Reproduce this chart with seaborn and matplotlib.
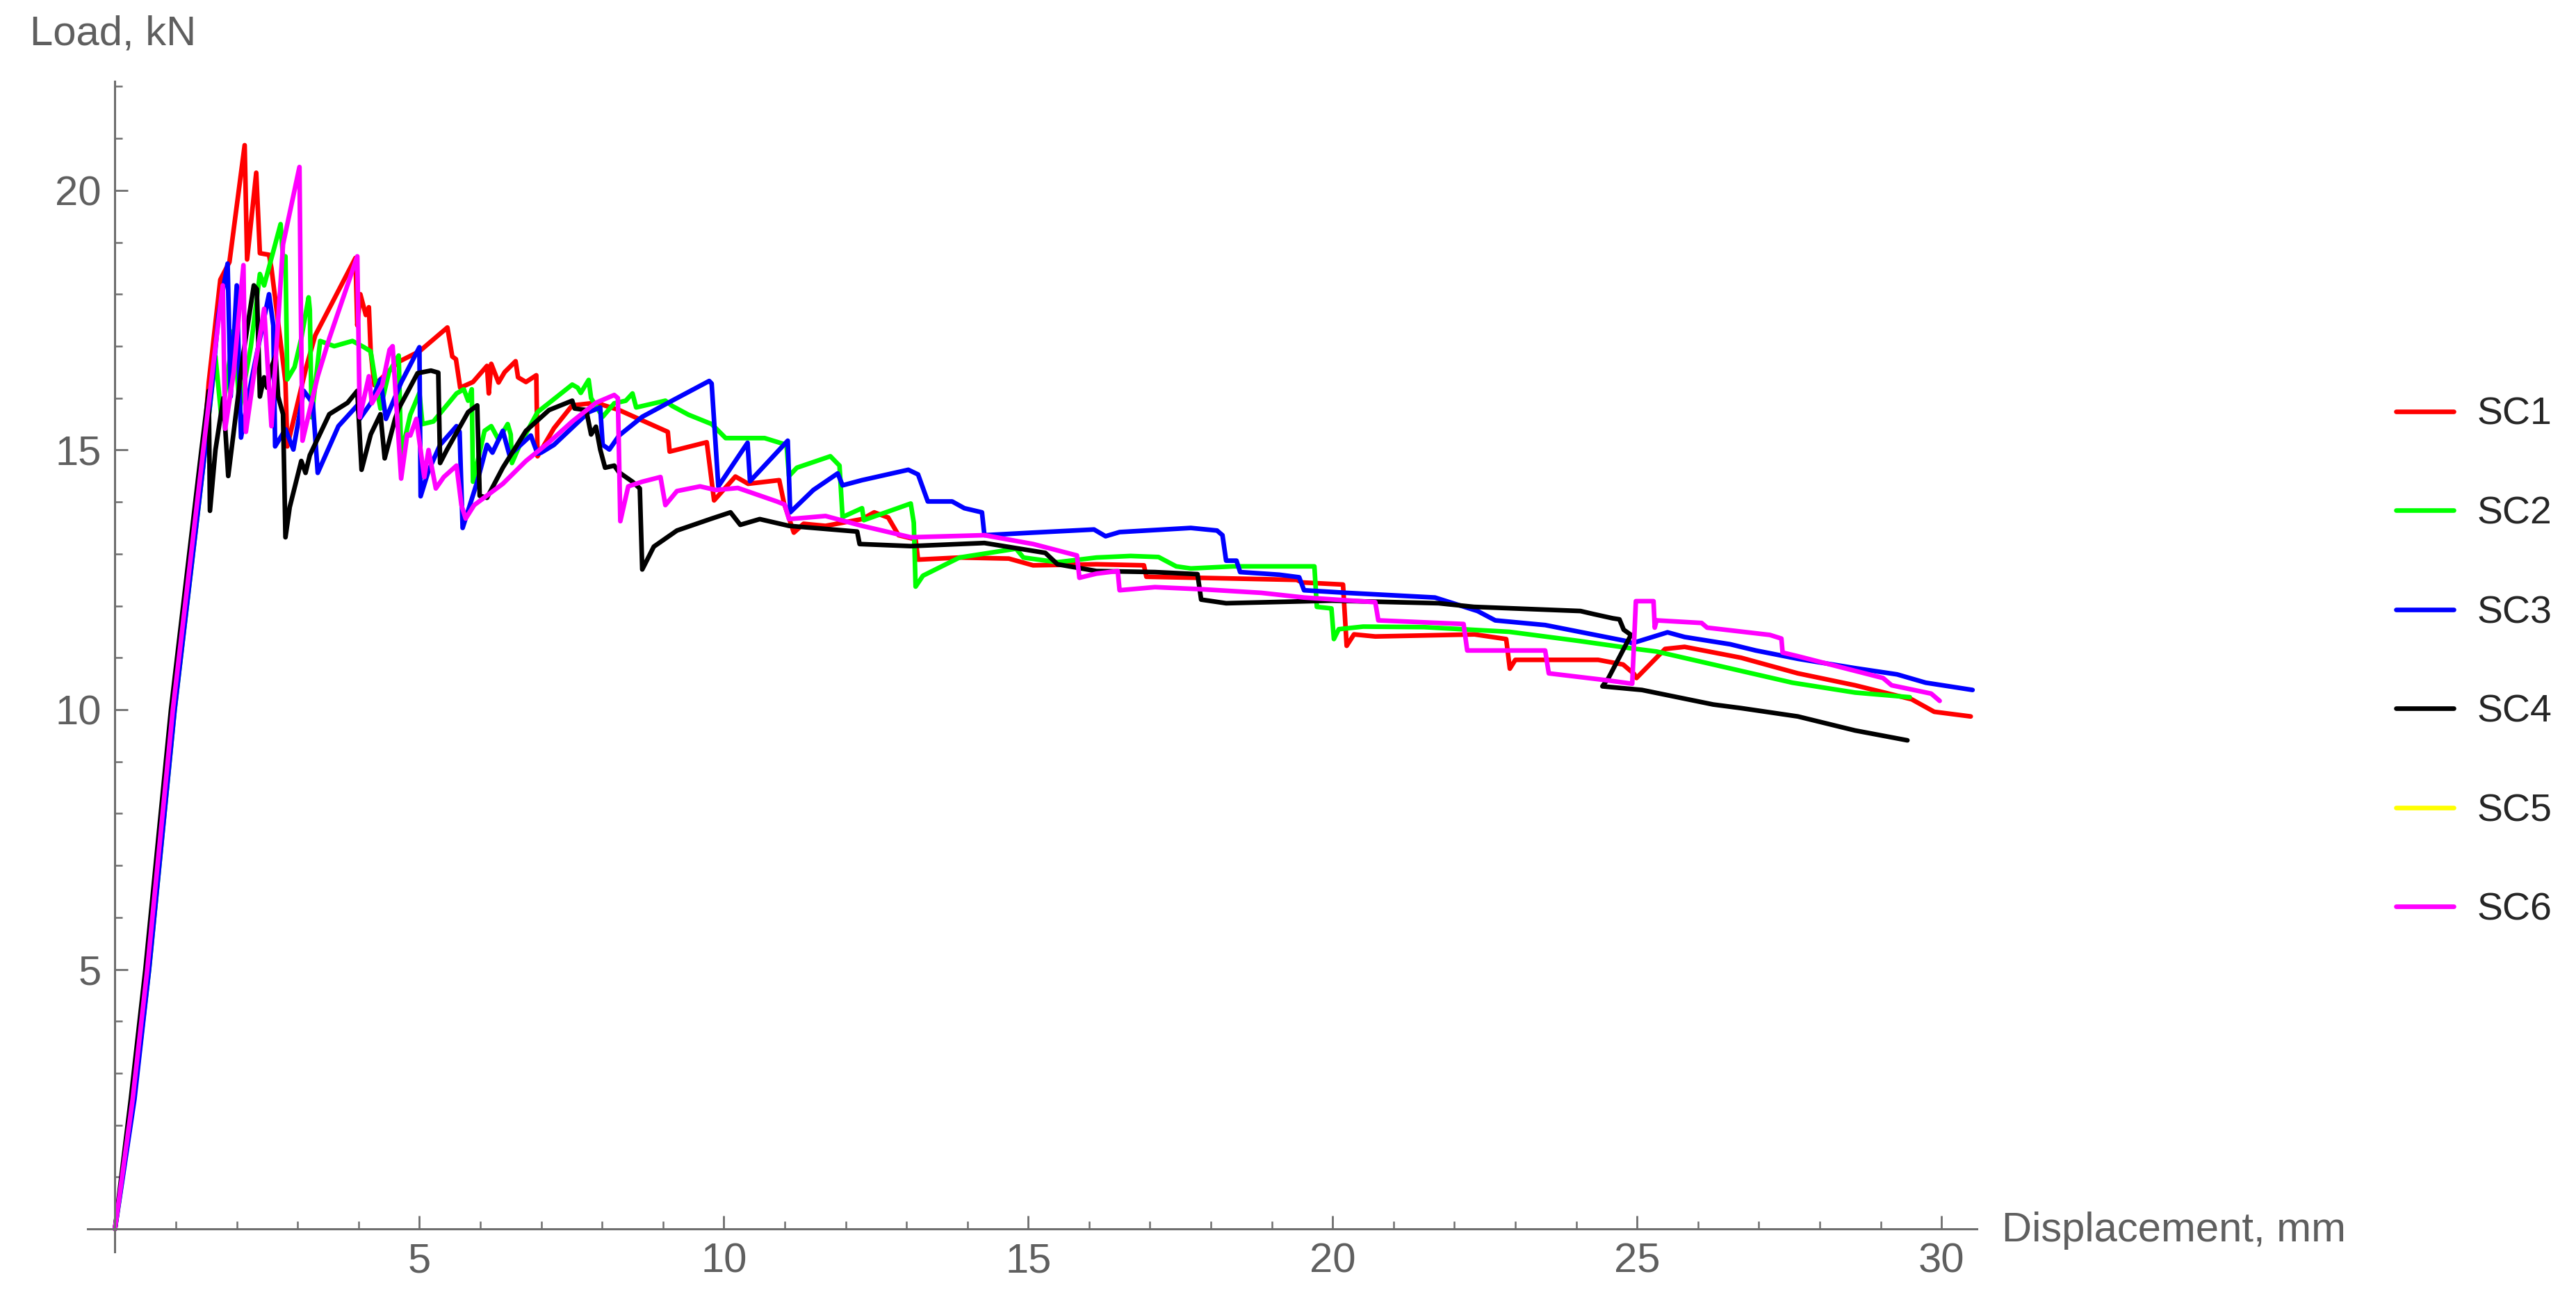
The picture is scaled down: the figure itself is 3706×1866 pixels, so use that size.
import matplotlib
matplotlib.use("Agg")
import matplotlib.pyplot as plt
from matplotlib.ticker import MultipleLocator, FixedLocator
from matplotlib.lines import Line2D
import seaborn as sns
import pandas as pd

# (displacement mm, load kN)
sc1 = [(0, 0), (0.29, 2.5), (0.53, 5.0), (0.74, 7.5), (0.95, 10.0), (1.2, 12.5), (1.45, 15.0),
       (1.54, 16.3), (1.73, 18.28), (1.88, 18.62), (2.13, 20.87), (2.17, 18.67), (2.32, 20.34),
       (2.38, 18.79), (2.53, 18.76), (2.57, 18.5), (2.80, 16.31), (2.83, 15.07), (3.14, 16.59),
       (3.29, 17.21), (3.95, 18.7), (3.98, 17.4), (4.03, 18.0), (4.12, 17.6), (4.17, 17.75),
       (4.2, 16.9), (4.26, 16.25), (4.66, 16.7), (5.0, 16.9), (5.46, 17.36), (5.54, 16.8),
       (5.60, 16.75), (5.67, 16.2), (5.88, 16.31), (6.11, 16.62), (6.14, 16.09), (6.18, 16.66),
       (6.30, 16.3), (6.40, 16.5), (6.58, 16.71), (6.62, 16.4), (6.75, 16.31), (6.92, 16.44),
       (6.94, 14.88), (7.21, 15.42), (7.51, 15.86), (7.90, 15.91), (8.28, 15.77), (8.66, 15.57),
       (9.08, 15.35), (9.11, 14.97), (9.72, 15.15), (9.84, 14.03), (10.19, 14.49), (10.4, 14.35),
       (10.91, 14.42), (10.99, 13.97), (11.15, 13.41), (11.31, 13.58), (11.67, 13.54),
       (12.27, 13.67), (12.47, 13.8), (12.70, 13.7), (12.87, 13.36), (13.15, 13.28),
       (13.19, 12.89), (13.87, 12.93), (14.68, 12.91), (15.08, 12.78), (16.12, 12.8),
       (16.90, 12.78), (16.94, 12.56), (17.78, 12.54), (19.41, 12.5), (19.50, 12.45),
       (20.17, 12.41), (20.23, 11.23), (20.35, 11.45), (20.70, 11.41), (22.33, 11.45),
       (22.85, 11.36), (22.91, 10.79), (23.0, 10.96), (24.36, 10.96), (24.77, 10.87),
       (24.95, 10.69), (24.99, 10.61), (25.46, 11.17), (25.78, 11.21), (26.71, 11.0),
       (27.64, 10.7), (28.58, 10.47), (29.51, 10.2), (29.88, 9.96), (30.48, 9.87)]

sc2 = [(0, 0), (0.31, 2.5), (0.56, 5.0), (0.77, 7.5), (0.98, 10.0), (1.23, 12.5), (1.48, 15.0),
       (1.65, 16.8), (1.75, 15.6), (1.95, 17.3), (2.05, 15.8), (2.23, 16.98), (2.38, 18.39),
       (2.45, 18.17), (2.72, 19.35), (2.76, 18.7), (2.80, 18.73), (2.83, 16.36), (2.95, 16.6),
       (3.06, 17.15), (3.18, 17.94), (3.20, 17.7), (3.23, 15.63), (3.37, 17.1), (3.6, 17.0),
       (3.9, 17.1), (4.09, 16.98), (4.2, 16.9), (4.28, 16.31), (4.36, 15.8), (4.5, 16.5),
       (4.66, 16.82), (4.70, 14.9), (4.85, 15.68), (5.0, 16.1), (5.05, 15.5), (5.23, 15.55),
       (5.61, 16.09), (5.73, 16.17), (5.80, 15.95), (5.86, 16.17), (5.88, 14.39), (6.07, 15.37),
       (6.18, 15.46), (6.30, 15.2), (6.45, 15.5), (6.50, 15.3), (6.52, 14.75), (6.65, 15.1),
       (6.94, 15.73), (7.51, 16.26), (7.60, 16.2), (7.65, 16.1), (7.78, 16.35), (7.82, 16.0),
       (8.01, 15.64), (8.2, 15.9), (8.39, 15.95), (8.50, 16.09), (8.56, 15.82), (9.04, 15.95),
       (9.15, 15.85), (9.42, 15.68), (9.80, 15.5), (10.03, 15.23), (10.67, 15.23),
       (11.03, 15.1), (11.07, 14.5), (11.2, 14.66), (11.75, 14.88), (11.90, 14.7),
       (11.95, 13.71), (12.27, 13.88), (12.30, 13.65), (13.07, 13.97), (13.12, 13.6),
       (13.15, 12.37), (13.27, 12.58), (13.87, 12.93), (14.80, 13.1), (14.92, 12.93),
       (15.48, 12.84), (16.12, 12.93), (16.68, 12.96), (17.14, 12.94), (17.43, 12.76),
       (17.67, 12.72), (18.37, 12.76), (19.70, 12.76), (19.74, 11.98), (19.98, 11.95),
       (20.02, 11.36), (20.1, 11.55), (20.5, 11.6), (21.5, 11.59), (22.9, 11.5),
       (24.07, 11.32), (24.85, 11.19), (25.32, 11.12), (26.25, 10.87), (27.55, 10.52),
       (28.58, 10.33), (29.48, 10.24)]

sc3 = [(0, 0), (0.32, 2.5), (0.56, 5.0), (0.77, 7.5), (0.98, 10.0), (1.23, 12.5), (1.48, 15.0),
       (1.6, 16.3), (1.7, 17.6), (1.85, 18.59), (1.9, 16.03), (2.0, 18.17), (2.07, 15.24),
       (2.25, 16.4), (2.53, 18.0), (2.6, 17.4), (2.63, 15.07), (2.8, 15.4), (2.93, 15.01),
       (3.1, 16.14), (3.25, 15.9), (3.33, 14.56), (3.67, 15.46), (3.98, 15.86), (4.02, 15.6),
       (4.2, 15.9), (4.36, 16.36), (4.45, 15.6), (4.7, 16.3), (5.0, 16.98), (5.02, 14.11),
       (5.15, 14.6), (5.34, 15.1), (5.61, 15.46), (5.66, 15.35), (5.71, 13.5), (5.95, 14.39),
       (6.11, 15.1), (6.2, 14.95), (6.37, 15.37), (6.48, 14.9), (6.83, 15.28), (6.94, 14.93),
       (7.0, 14.95), (7.21, 15.1), (7.78, 15.73), (7.97, 15.82), (8.01, 15.1), (8.12, 15.01),
       (8.28, 15.28), (8.66, 15.64), (9.15, 15.95), (9.76, 16.33), (9.80, 16.28), (9.91, 14.3),
       (10.39, 15.14), (10.43, 14.4), (11.05, 15.18), (11.09, 13.8), (11.47, 14.23),
       (11.87, 14.55), (11.95, 14.32), (12.27, 14.42), (13.03, 14.62), (13.19, 14.53),
       (13.27, 14.27), (13.35, 14.01), (13.75, 14.01), (13.95, 13.88), (14.24, 13.8),
       (14.28, 13.36), (15.08, 13.41), (16.08, 13.47), (16.27, 13.34), (16.5, 13.42),
       (17.67, 13.5), (18.10, 13.45), (18.19, 13.36), (18.25, 12.87), (18.42, 12.87),
       (18.48, 12.65), (19.12, 12.6), (19.45, 12.55), (19.53, 12.3), (20.23, 12.25),
       (21.68, 12.16), (22.38, 11.9), (22.67, 11.72), (23.49, 11.63), (24.83, 11.32),
       (24.92, 11.28), (25.5, 11.49), (25.78, 11.4), (26.53, 11.26), (26.95, 11.14),
       (27.64, 10.98), (28.58, 10.8), (29.27, 10.68), (29.74, 10.52), (30.51, 10.38)]

# SC4 doubles back near 25 mm, so the point order matters
sc4 = [(0, 0), (0.26, 2.5), (0.5, 5.0), (0.71, 7.5), (0.92, 10.0), (1.17, 12.5), (1.42, 15.0),
       (1.54, 16.14), (1.56, 13.83), (1.65, 15.0), (1.78, 16.0), (1.86, 14.5), (2.11, 16.87),
       (2.28, 18.17), (2.33, 18.1), (2.38, 16.03), (2.45, 16.4), (2.5, 16.2), (2.57, 16.6),
       (2.64, 16.81), (2.68, 16.03), (2.76, 15.69), (2.8, 13.32), (2.87, 13.9), (3.06, 14.79),
       (3.13, 14.56), (3.2, 14.9), (3.52, 15.69), (3.82, 15.91), (3.98, 16.14), (4.05, 14.62),
       (4.2, 15.3), (4.36, 15.69), (4.43, 14.84), (4.6, 15.6), (4.66, 15.8), (4.97, 16.48),
       (5.19, 16.53), (5.31, 16.49), (5.34, 14.75), (5.45, 15.0), (5.8, 15.73), (5.95, 15.86),
       (5.99, 14.12), (6.11, 14.08), (6.37, 14.66), (6.75, 15.37), (7.13, 15.77),
       (7.51, 15.95), (7.55, 15.8), (7.74, 15.77), (7.82, 15.3), (7.9, 15.45), (7.97, 15.01),
       (8.05, 14.66), (8.2, 14.7), (8.28, 14.57), (8.5, 14.39), (8.62, 14.26), (8.66, 12.7),
       (8.85, 13.14), (9.23, 13.45), (9.8, 13.68), (10.11, 13.8), (10.27, 13.56),
       (10.59, 13.67), (11.07, 13.54), (12.19, 13.43), (12.23, 13.19), (13.07, 13.15),
       (14.28, 13.21), (15.28, 13.02), (15.48, 12.8), (16.12, 12.67), (17.08, 12.65),
       (17.78, 12.61), (17.84, 12.12), (18.25, 12.05), (19.99, 12.1), (21.74, 12.05),
       (22.32, 11.98), (24.07, 11.9), (24.29, 11.84), (24.6, 11.76), (24.71, 11.74),
       (24.78, 11.54), (24.9, 11.44), (24.53, 10.61), (24.43, 10.45), (25.08, 10.38),
       (26.25, 10.1), (26.71, 10.03), (27.64, 9.87), (28.58, 9.6), (29.44, 9.41)]

# SC5 is in the legend but no yellow trace shows in the plot
sc5 = []

sc6 = [(0, 0), (0.29, 2.5), (0.53, 5.0), (0.74, 7.5), (0.95, 10.0), (1.2, 12.5), (1.45, 15.0),
       (1.6, 16.5), (1.77, 18.17), (1.81, 15.41), (1.95, 16.5), (2.11, 18.56), (2.15, 15.35),
       (2.3, 16.6), (2.45, 17.72), (2.57, 15.46), (2.76, 18.96), (3.03, 20.45), (3.05, 18.0),
       (3.08, 15.18), (3.33, 16.42), (3.52, 17.15), (3.98, 18.73), (4.02, 15.63), (4.17, 16.42),
       (4.22, 15.9), (4.39, 16.25), (4.51, 16.93), (4.56, 17.0), (4.7, 14.45), (4.8, 15.3),
       (4.85, 15.28), (4.95, 15.6), (5.08, 14.48), (5.15, 15.0), (5.27, 14.26), (5.4, 14.48),
       (5.61, 14.7), (5.69, 13.94), (5.76, 13.68), (5.9, 13.94), (6.37, 14.35), (6.75, 14.79),
       (7.13, 15.15), (7.51, 15.55), (7.9, 15.91), (8.2, 16.06), (8.26, 16.0), (8.3, 13.63),
       (8.43, 14.3), (8.66, 14.39), (8.96, 14.48), (9.04, 13.94), (9.23, 14.21), (9.61, 14.3),
       (9.87, 14.23), (10.23, 14.27), (10.87, 14.01), (11.0, 13.95), (11.07, 13.67),
       (11.67, 13.73), (12.27, 13.54), (13.07, 13.32), (14.28, 13.36), (15.08, 13.19),
       (15.8, 12.97), (15.84, 12.54), (16.12, 12.62), (16.47, 12.67), (16.5, 12.3),
       (17.08, 12.36), (17.84, 12.32), (18.83, 12.25), (19.53, 12.16), (20.7, 12.07),
       (20.75, 11.72), (22.15, 11.65), (22.21, 11.14), (23.49, 11.14), (23.55, 10.7),
       (24.48, 10.57), (24.92, 10.5), (24.98, 12.09), (25.27, 12.09), (25.29, 11.58),
       (25.32, 11.72), (26.06, 11.67), (26.15, 11.58), (27.18, 11.44), (27.37, 11.37),
       (27.39, 11.1), (27.64, 11.03), (29.04, 10.61), (29.18, 10.47), (29.83, 10.31),
       (29.97, 10.17)]

specimens = ["SC1", "SC2", "SC3", "SC4", "SC5", "SC6"]
series = [sc1, sc2, sc3, sc4, sc5, sc6]
colors = ["#ff0000", "#00ff00", "#0000ff", "#000000", "#ffff00", "#ff00ff"]
x_ticks = [5, 10, 15, 20, 25, 30]
y_ticks = [5, 10, 15, 20]

rows = []
for name, pts in zip(specimens, series):
    for d, f in pts:
        rows.append({"specimen": name, "disp": d, "load": f})
df = pd.DataFrame(rows)
palette = dict(zip(specimens, colors))

sns.set_style("white")
axis_grey = "#6e6e6e"
text_grey = "#5f5f5f"
sans = ["Liberation Sans", "DejaVu Sans"]
lw = 2.4

fig = plt.figure(figsize=(18.53, 9.33), dpi=200)
ax = fig.add_axes([0.034, 0.0348, 0.7334, 0.9025])

sns.lineplot(data=df, x="disp", y="load", hue="specimen", hue_order=specimens,
             palette=palette, sort=False, estimator=None, linewidth=lw,
             legend=False, ax=ax)

ax.set_xlim(-0.45, 30.58)
ax.set_ylim(-0.44, 22.1)
ax.set_xlabel("")
ax.set_ylabel("")

for side in ["top", "right"]:
    ax.spines[side].set_visible(False)
for side in ["left", "bottom"]:
    ax.spines[side].set_position(("data", 0))
    ax.spines[side].set_color(axis_grey)
    ax.spines[side].set_linewidth(1.1)

ax.xaxis.set_major_locator(FixedLocator(x_ticks))
ax.yaxis.set_major_locator(FixedLocator(y_ticks))
ax.xaxis.set_minor_locator(MultipleLocator(1))
ax.yaxis.set_minor_locator(MultipleLocator(1))
ax.tick_params(which="major", direction="in", length=7, width=1.0, color=axis_grey,
               labelcolor=text_grey, labelsize=21.5, pad=7)
ax.tick_params(which="minor", direction="in", length=4, width=0.9, color=axis_grey)
ax.tick_params(axis="x", bottom=True, which="both")
ax.tick_params(axis="y", left=True, which="both")
for lab in ax.get_xticklabels() + ax.get_yticklabels():
    lab.set_family(sans)

fig.text(0.0116, 0.9657, "Load, kN", family=sans, fontsize=21.5, color=text_grey,
         ha="left", va="baseline")
fig.text(0.777, 0.0429, "Displacement, mm", family=sans, fontsize=21.5, color=text_grey,
         ha="left", va="baseline")

handles = [Line2D([0], [0], color=c, linewidth=lw) for c in colors]
fig.legend(handles, specimens, loc="upper left", bbox_to_anchor=(0.930, 0.694),
           frameon=False, borderpad=0, borderaxespad=0, handlelength=1.5,
           handletextpad=0.6, labelspacing=1.63,
           prop={"family": sans, "size": 20})

fig.savefig("out.png", dpi=200)
